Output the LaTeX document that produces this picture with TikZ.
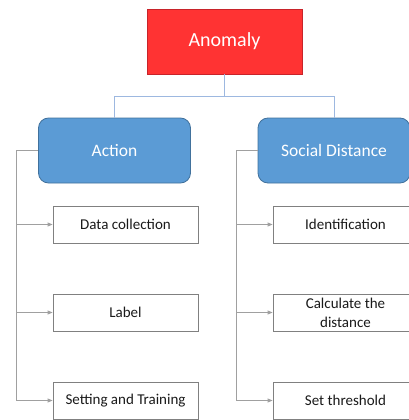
\documentclass[tikz,border=0pt]{standalone}
\usepackage{fontspec}
\setmainfont{Carlito}
\usetikzlibrary{arrows.meta}
\definecolor{redfill}{HTML}{FF3333}
\definecolor{redline}{HTML}{C8232A}
\definecolor{bluefill}{HTML}{5B9BD5}
\definecolor{blueline}{HTML}{41719C}
\definecolor{bluecon}{HTML}{9DB8E0}
\definecolor{graycon}{HTML}{A0A0A0}
\definecolor{graybox}{HTML}{808080}
\definecolor{txt}{HTML}{1A1A1A}
\tikzset{
  topbox/.style={draw=redline, fill=redfill, line width=0.8pt, minimum width=155pt, minimum height=65pt, inner sep=0pt, text=white, font=\fontsize{20}{24}\selectfont},
  midbox/.style={draw=blueline, fill=bluefill, line width=0.8pt, rounded corners=10pt, minimum width=152pt, minimum height=65pt, inner sep=0pt, text=white, font=\fontsize{17.5}{21}\selectfont},
  leafbox/.style={draw=graybox, fill=white, line width=0.8pt, minimum width=145pt, minimum height=37pt, inner sep=0pt, text=txt, align=center, font=\fontsize{15}{19}\selectfont},
  bcon/.style={draw=bluecon, line width=0.8pt},
  gcon/.style={draw=graycon, line width=0.8pt},
  garrow/.style={gcon, -{Triangle[length=5pt,width=4pt]}},
}
\begin{document}
\begin{tikzpicture}[x=1pt,y=-1pt]
\useasboundingbox (0,0) rectangle (409,420);
\clip (0,0) rectangle (409,420);
\node[topbox] (anomaly) at (224.5,41.5) {Anomaly};
\node[midbox] (action) at (114.5,150.5) {Action};
\node[midbox] (social) at (334,150.5) {Social Distance};
\node[leafbox] (dc) at (125.5,224.5) {Data collection};
\node[leafbox] (label) at (125.5,312.5) {Label};
\node[leafbox] (st) at (125.5,400.5) {Setting and Training};
\node[leafbox] (ident) at (345.5,224.5) {Identification};
\node[leafbox] (calc) at (345.5,312.5) {Calculate the\\distance};
\node[leafbox] (thr) at (345.5,400.5) {Set threshold};
\coordinate (hub) at (224.5,96);
\draw[bcon] (anomaly.south) -- (hub) -| (action.north);
\draw[bcon] (hub) -| (social.north);
\coordinate (tl) at (16,150.5);
\coordinate (tr) at (236,150.5);
\draw[gcon] (action.west) -- (tl) -- (tl |- st.west);
\draw[garrow] (tl |- dc.west) -- (dc.west);
\draw[garrow] (tl |- label.west) -- (label.west);
\draw[garrow] (tl |- st.west) -- (st.west);
\draw[gcon] (social.west) -- (tr) -- (tr |- thr.west);
\draw[garrow] (tr |- ident.west) -- (ident.west);
\draw[garrow] (tr |- calc.west) -- (calc.west);
\draw[garrow] (tr |- thr.west) -- (thr.west);
\end{tikzpicture}
\end{document}
